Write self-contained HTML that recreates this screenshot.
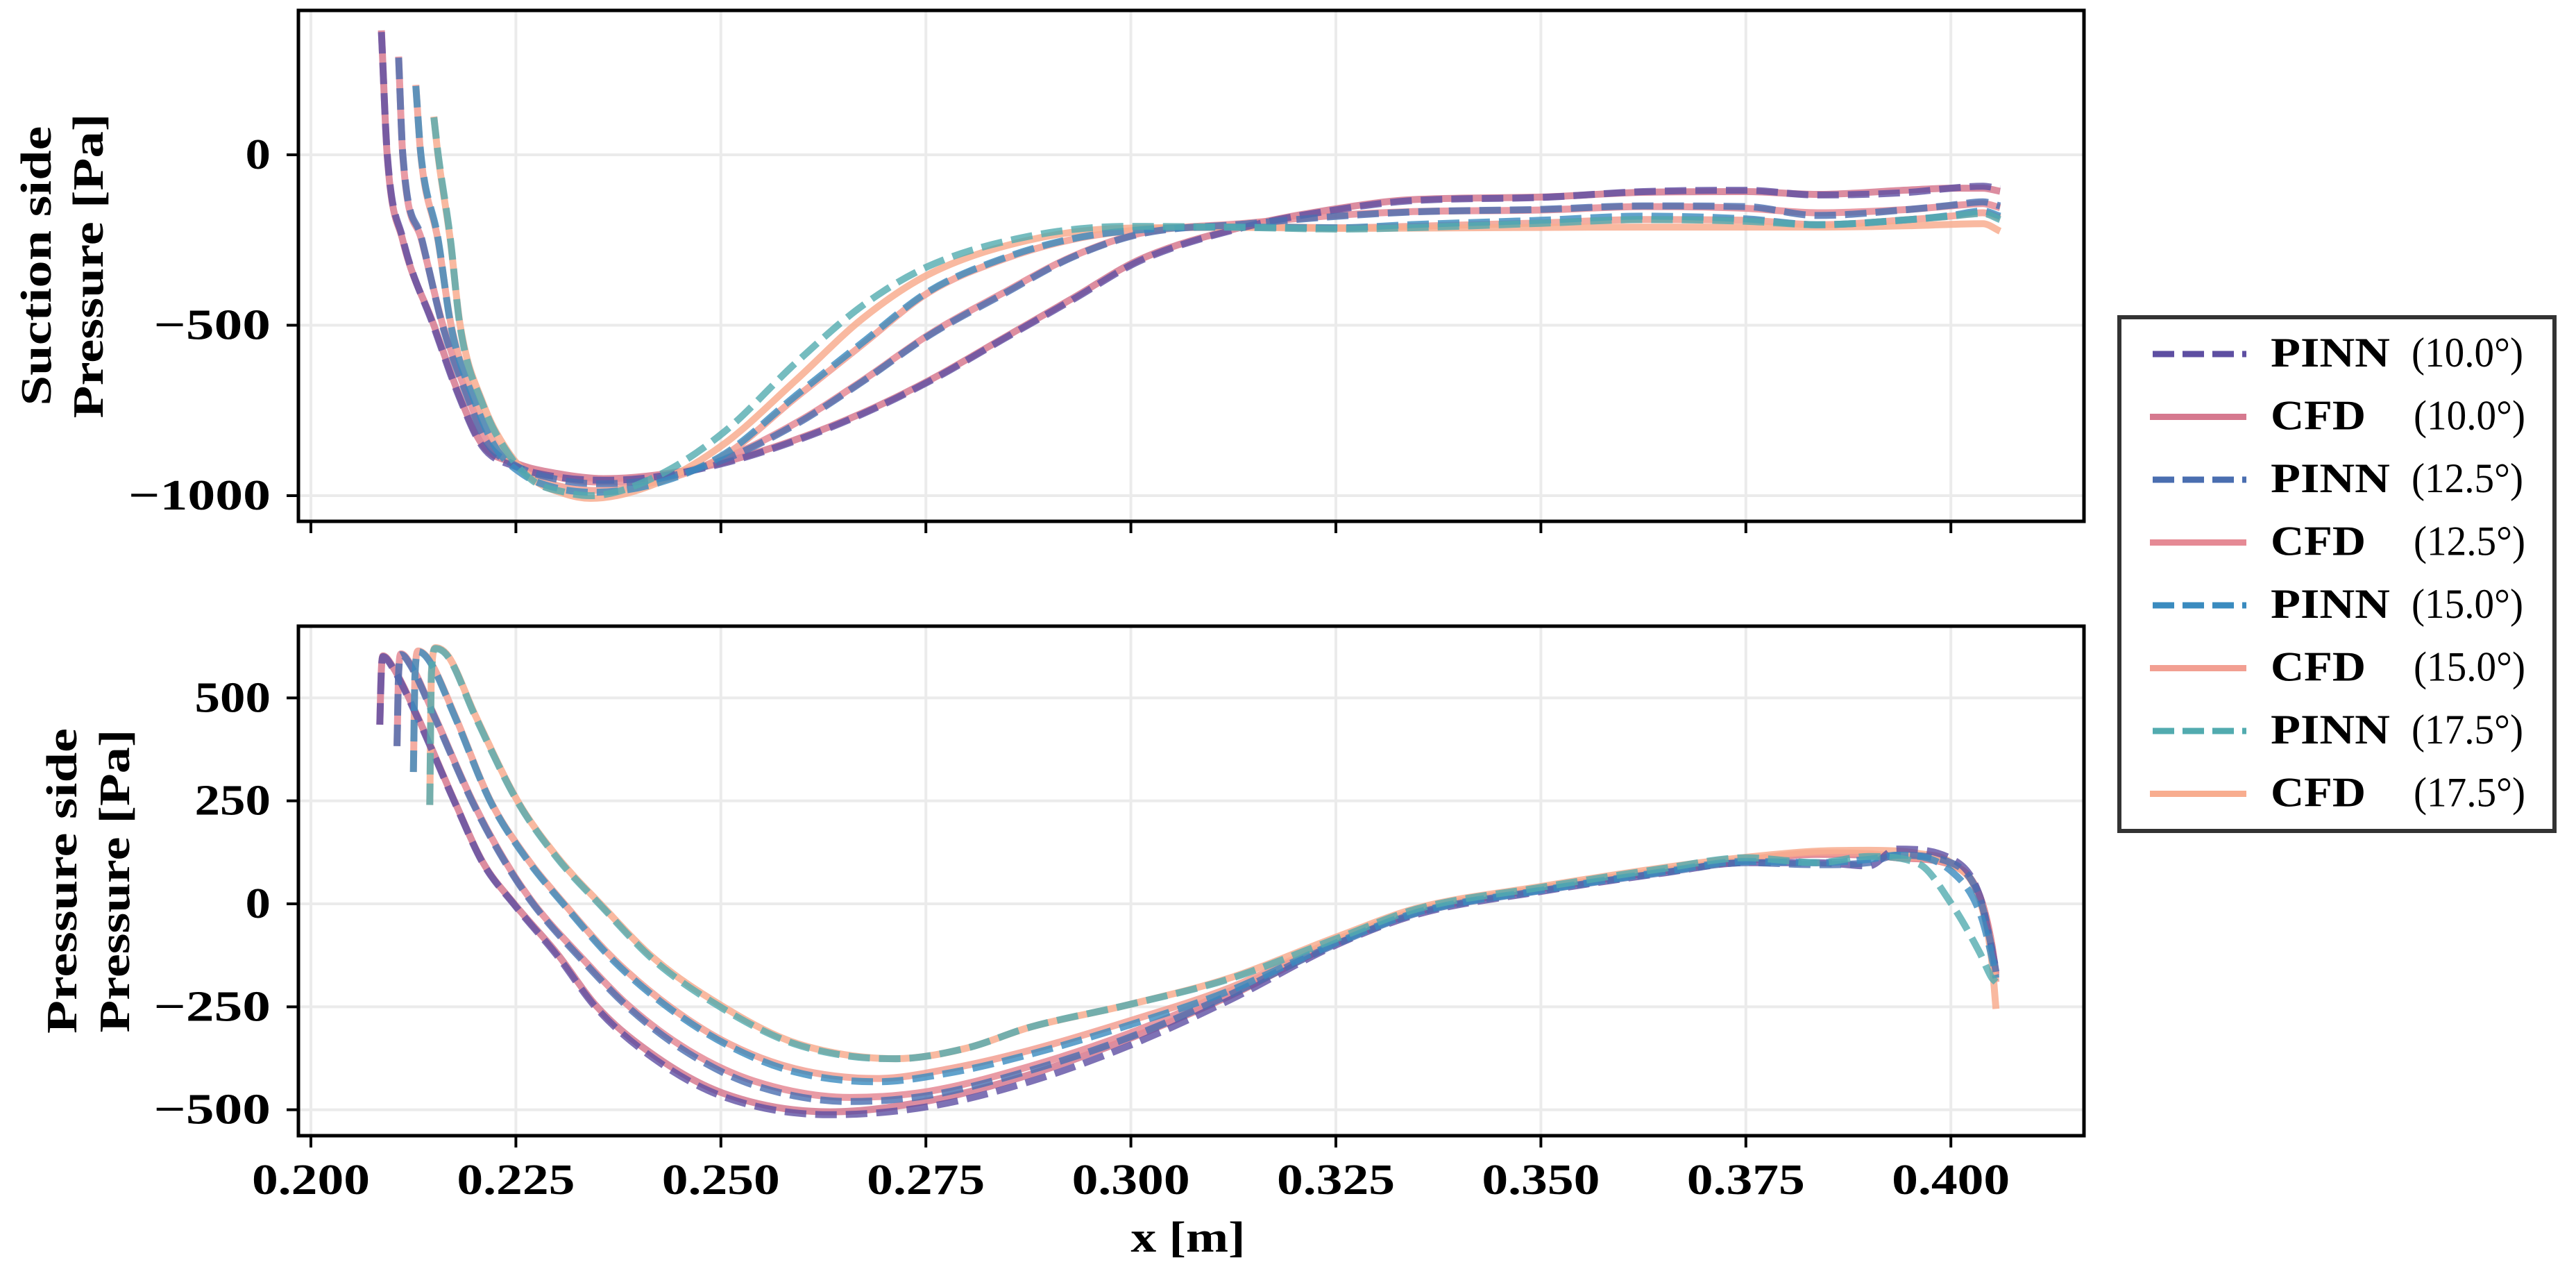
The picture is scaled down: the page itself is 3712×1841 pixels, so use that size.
<!DOCTYPE html>
<html><head><meta charset="utf-8"><style>
html,body{margin:0;padding:0;background:#fff;}
svg{display:block;}
text{font-family:"Liberation Serif",serif;fill:#000;}
</style></head><body>
<svg id="chart" xmlns="http://www.w3.org/2000/svg" width="3712" height="1841" viewBox="0 0 3712 1841">
<defs>
<clipPath id="clipTop"><rect x="430" y="15" width="2573" height="736"/></clipPath>
<clipPath id="clipBot"><rect x="430" y="902" width="2573" height="734"/></clipPath>
</defs>
<rect x="0" y="0" width="3712" height="1841" fill="#fff"/>
<g id="gridTop"></g>
<g id="gridBot"></g>
<g id="seriesTop" clip-path="url(#clipTop)"></g>
<g id="seriesBot" clip-path="url(#clipBot)"></g>
<rect x="430" y="15" width="2573" height="736" fill="none" stroke="#000" stroke-width="5"/>
<rect x="430" y="902" width="2573" height="734" fill="none" stroke="#000" stroke-width="5"/>
<g id="ticks"></g>
<g>
<text transform="translate(73,383) rotate(-90)" text-anchor="middle" font-size="62" font-weight="bold" textLength="403" lengthAdjust="spacingAndGlyphs">Suction side</text>
<text transform="translate(148,383) rotate(-90)" text-anchor="middle" font-size="62" font-weight="bold" textLength="439" lengthAdjust="spacingAndGlyphs">Pressure [Pa]</text>
</g>
<g>
<text transform="translate(110,1269) rotate(-90)" text-anchor="middle" font-size="62" font-weight="bold" textLength="440" lengthAdjust="spacingAndGlyphs">Pressure side</text>
<text transform="translate(186,1269) rotate(-90)" text-anchor="middle" font-size="62" font-weight="bold" textLength="437" lengthAdjust="spacingAndGlyphs">Pressure [Pa]</text>
</g>
<text x="1712" y="1803" text-anchor="middle" font-size="62" font-weight="bold" textLength="165" lengthAdjust="spacingAndGlyphs">x [m]</text>
<g id="legend">
<rect x="3054" y="457" width="627" height="740" fill="#fff" stroke="#333" stroke-width="6"/>
</g>
</svg>
<script>
// ---------- data ----------
const xTicks = [0.200,0.225,0.250,0.275,0.300,0.325,0.350,0.375,0.400];
const xTickLabels = ["0.200","0.225","0.250","0.275","0.300","0.325","0.350","0.375","0.400"];
const yTicksTop = [0,-500,-1000];
const yTickLabelsTop = ["0","\u2212500","\u22121000"];
const yTicksBot = [500,250,0,-250,-500];
const yTickLabelsBot = ["500","250","0","\u2212250","\u2212500"];
const seriesNames = ["PINN","CFD","PINN","CFD","PINN","CFD","PINN","CFD"];
const seriesAngles = ["(10.0\u00b0)","(10.0\u00b0)","(12.5\u00b0)","(12.5\u00b0)","(15.0\u00b0)","(15.0\u00b0)","(17.5\u00b0)","(17.5\u00b0)"];

// suction side x grids
const xTop10 = [0.2086,0.2093,0.2112,0.2150,0.2180,0.2209,0.2250,0.2300,0.2357,0.2420,0.2503,0.2592,0.2673,0.2754,0.2845,0.2929,0.3012,0.3139,0.3254,0.3340,0.3500,0.3625,0.3750,0.3837,0.3950,0.4000,0.4039,0.4060];
const xTop12 = [0.2107,0.2112,0.2135,0.2161,0.2190,0.2215,0.2250,0.2300,0.2350,0.2420,0.2503,0.2592,0.2673,0.2754,0.2845,0.2929,0.3012,0.3139,0.3254,0.3340,0.3500,0.3625,0.3750,0.3837,0.3950,0.4000,0.4039,0.4060];
const xTop15 = [0.2128,0.2134,0.2155,0.2171,0.2200,0.2225,0.2260,0.2300,0.2345,0.2420,0.2503,0.2592,0.2673,0.2754,0.2845,0.2929,0.3012,0.3139,0.3254,0.3340,0.3500,0.3625,0.3750,0.3837,0.3950,0.4000,0.4039,0.4060];
const xTop17 = [0.2150,0.2155,0.2170,0.2182,0.2210,0.2236,0.2270,0.2310,0.2341,0.2420,0.2503,0.2592,0.2673,0.2754,0.2876,0.2997,0.3139,0.3254,0.3340,0.3500,0.3625,0.3750,0.3837,0.3950,0.4000,0.4039,0.4060];
// suction side values
const pinnTop10 = [360,5,-245,-505,-705,-855,-915,-945,-955,-945,-905,-838,-760,-665,-540,-425,-310,-212,-160,-135,-125,-108,-104,-118,-110,-98,-92,-100];
const cfdTop10  = [365,0,-250,-500,-700,-850,-905,-935,-950,-940,-902,-835,-757,-662,-537,-421,-306,-210,-157,-132,-124,-110,-108,-116,-103,-98,-98,-107];
const pinnTop12 = [285,5,-245,-505,-705,-845,-912,-952,-965,-952,-895,-790,-665,-530,-408,-300,-232,-203,-180,-168,-160,-150,-152,-178,-160,-148,-138,-150];
const cfdTop12  = [288,0,-250,-500,-700,-840,-905,-945,-960,-950,-892,-786,-662,-527,-404,-298,-230,-201,-177,-167,-162,-152,-157,-170,-160,-150,-143,-155];
const pinnTop15 = [202,5,-245,-505,-725,-858,-940,-978,-990,-965,-880,-705,-550,-400,-303,-246,-220,-212,-214,-205,-192,-180,-188,-205,-190,-178,-165,-180];
const cfdTop15  = [205,0,-250,-500,-720,-850,-930,-970,-985,-960,-884,-711,-556,-403,-306,-248,-220,-210,-214,-210,-200,-190,-192,-205,-190,-180,-170,-185];
const pinnTop17 = [110,5,-245,-505,-735,-860,-955,-990,-1000,-945,-815,-609,-442,-326,-239,-210,-213,-218,-214,-201,-190,-195,-205,-190,-180,-172,-190];
const cfdTop17  = [112,0,-250,-500,-730,-855,-950,-995,-1008,-965,-850,-660,-480,-350,-250,-215,-213,-216,-215,-213,-212,-212,-212,-208,-204,-202,-224];

// pressure side x grids
const xBot10 = [0.2084,0.2086,0.2088,0.2100,0.2130,0.2175,0.2210,0.2248,0.2300,0.2349,0.2420,0.2503,0.2633,0.2754,0.2876,0.2997,0.3119,0.3250,0.3350,0.3500,0.3650,0.3750,0.3837,0.3900,0.3934,0.4000,0.4035,0.4050,0.4055];
const xBot12 = [0.2105,0.2107,0.2110,0.2122,0.2150,0.2197,0.2235,0.2272,0.2330,0.2389,0.2460,0.2540,0.2658,0.2754,0.2876,0.2997,0.3119,0.3250,0.3350,0.3500,0.3650,0.3750,0.3837,0.3900,0.3934,0.4000,0.4035,0.4050,0.4055];
const xBot15 = [0.2125,0.2127,0.2131,0.2145,0.2175,0.2219,0.2262,0.2309,0.2370,0.2438,0.2510,0.2590,0.2690,0.2780,0.2876,0.2997,0.3119,0.3250,0.3350,0.3500,0.3650,0.3750,0.3837,0.3900,0.3934,0.4000,0.4035,0.4050,0.4055];
const xBot17 = [0.2145,0.2147,0.2152,0.2168,0.2200,0.2252,0.2300,0.2353,0.2420,0.2503,0.2580,0.2650,0.2713,0.2800,0.2876,0.2997,0.3119,0.3254,0.3350,0.3500,0.3650,0.3750,0.3837,0.3900,0.3961,0.4000,0.4035,0.4050,0.4055];
// pressure side values
const pinnBot10 = [435,570,600,572,452,248,98,-2,-125,-255,-378,-468,-512,-492,-432,-345,-235,-100,-25,30,75,100,100,92,133,110,20,-110,-160];
const cfdBot10  = [435,570,602,575,455,250,100,0,-120,-250,-370,-460,-505,-478,-415,-328,-225,-95,-20,37,80,105,120,118,112,95,20,-100,-170];
const pinnBot12 = [383,560,605,577,457,247,107,-3,-135,-255,-362,-440,-480,-465,-405,-325,-222,-98,-22,32,76,100,95,100,118,100,15,-110,-165];
const cfdBot12  = [383,560,607,580,460,250,110,0,-130,-250,-355,-430,-470,-455,-395,-315,-213,-92,-18,37,80,105,122,120,112,95,20,-100,-175];
const pinnBot15 = [320,560,612,588,457,248,112,-3,-140,-255,-345,-408,-432,-410,-366,-295,-212,-95,-20,33,78,103,100,108,118,80,-20,-130,-180];
const cfdBot15  = [320,560,614,590,460,250,115,0,-135,-250,-340,-400,-424,-400,-356,-285,-205,-88,-15,38,82,107,124,122,115,95,15,-110,-190];
const pinnBot17 = [240,560,620,598,457,248,112,-3,-140,-255,-333,-368,-376,-350,-300,-245,-183,-82,-12,40,86,112,100,115,97,2,-118,-180,-190];
const cfdBot17  = [240,560,622,600,460,250,115,0,-135,-250,-330,-366,-376,-350,-300,-245,-181,-78,-10,42,88,113,128,130,122,100,10,-140,-255];

// ---------- styles & scales ----------
const colors = ["#5e4fa2","#d6798f","#4a6eb0","#e58a95","#3a8bbf","#f29f92","#52abaf","#f8ad8f"];
const NS = "http://www.w3.org/2000/svg";
const X0 = 448, XK = 11816;
function xS(v){ return X0 + (v - 0.2) * XK; }
function yTop(p){ return 223 - p * 0.491; }
function yBot(p){ return 1302 - p * 0.5933; }
function mk(tag, attrs, parent){
  const e = document.createElementNS(NS, tag);
  for (const k in attrs) e.setAttribute(k, attrs[k]);
  parent.appendChild(e); return e;
}
function labelWidth(s){
  let w = 0;
  for (const c of s){ if (c >= '0' && c <= '9') w += 36.5; else if (c === '.') w += 24; else if (c === '\u2212') w += 59; }
  return w;
}

// ---------- grid ----------
const gT = document.getElementById('gridTop'), gB = document.getElementById('gridBot');
xTicks.forEach(v => {
  const l1 = mk('line', {x1:xS(v), x2:xS(v), y1:15, y2:751, stroke:'#ebebeb', 'stroke-width':4}, gT);
  
  
  const l2 = mk('line', {x1:xS(v), x2:xS(v), y1:902, y2:1636, stroke:'#ebebeb', 'stroke-width':4}, gB);
  
  
});
yTicksTop.forEach(p => {
  const l = mk('line', {x1:430, x2:3003, y1:yTop(p), y2:yTop(p), stroke:'#ebebeb', 'stroke-width':4}, gT);
  
  
});
yTicksBot.forEach(p => {
  const l = mk('line', {x1:430, x2:3003, y1:yBot(p), y2:yBot(p), stroke:'#ebebeb', 'stroke-width':4}, gB);
  
  
});

// ---------- ticks ----------
const tk = document.getElementById('ticks');
xTicks.forEach((v, i) => {
  const t1 = mk('line', {x1:xS(v), x2:xS(v), y1:751, y2:768, stroke:'#000', 'stroke-width':4}, tk);
  
  
  const t2 = mk('line', {x1:xS(v), x2:xS(v), y1:1636, y2:1653, stroke:'#000', 'stroke-width':4}, tk);
  
  
  const tx = mk('text', {x:xS(v), y:1720, 'text-anchor':'middle', 'font-size':62, 'font-weight':'bold', textLength:labelWidth(xTickLabels[i]), lengthAdjust:'spacingAndGlyphs'}, tk);
  tx.textContent = xTickLabels[i];
  
  
});
function yTickSet(ticks, labels, yf, nm){
  ticks.forEach((p, i) => {
    const t = mk('line', {x1:413, x2:430, y1:yf(p), y2:yf(p), stroke:'#000', 'stroke-width':4}, tk);
    
    
    const tx = mk('text', {x:390, y:yf(p)+20, 'text-anchor':'end', 'font-size':62, 'font-weight':'bold', textLength:labelWidth(labels[i]), lengthAdjust:'spacingAndGlyphs'}, tk);
    tx.textContent = labels[i];
    
    
  });
}
yTickSet(yTicksTop, yTickLabelsTop, yTop, 'suction');
yTickSet(yTicksBot, yTickLabelsBot, yBot, 'pressure');

// ---------- series ----------
const topSets = [
  [xTop10, cfdTop10, pinnTop10], [xTop12, cfdTop12, pinnTop12],
  [xTop15, cfdTop15, pinnTop15], [xTop17, cfdTop17, pinnTop17]];
const botSets = [
  [xBot10, cfdBot10, pinnBot10], [xBot12, cfdBot12, pinnBot12],
  [xBot15, cfdBot15, pinnBot15], [xBot17, cfdBot17, pinnBot17]];
const angleTags = ['10-0','12-5','15-0','17-5'];

// monotone cubic (Fritsch-Carlson) smoothing in screen space
function smoothPath(xs, ys, yf){
  const n = xs.length;
  const X = xs.map(xS), Y = ys.map(yf);
  const d = [], m = new Array(n);
  for (let i = 0; i < n-1; i++) d.push((Y[i+1]-Y[i]) / (X[i+1]-X[i]));
  m[0] = d[0]; m[n-1] = d[n-2];
  for (let i = 1; i < n-1; i++) m[i] = (d[i-1]*d[i] <= 0) ? 0 : (d[i-1]+d[i]) / 2;
  for (let i = 0; i < n-1; i++){
    if (d[i] === 0){ m[i] = 0; m[i+1] = 0; continue; }
    const a = m[i]/d[i], b = m[i+1]/d[i], s = a*a + b*b;
    if (s > 9){ const t = 3/Math.sqrt(s); m[i] = t*a*d[i]; m[i+1] = t*b*d[i]; }
  }
  let p = 'M' + X[0].toFixed(1) + ',' + Y[0].toFixed(1);
  for (let i = 0; i < n-1; i++){
    const h = (X[i+1]-X[i]) / 3;
    p += 'C' + (X[i]+h).toFixed(1) + ',' + (Y[i]+m[i]*h).toFixed(1) + ' ' +
         (X[i+1]-h).toFixed(1) + ',' + (Y[i+1]-m[i+1]*h).toFixed(1) + ' ' +
         X[i+1].toFixed(1) + ',' + Y[i+1].toFixed(1);
  }
  return p;
}
function drawPanel(sets, yf, gid, nm){
  const g = document.getElementById(gid);
  sets.forEach((s, k) => {
    const c = mk('path', {d:smoothPath(s[0], s[1], yf), fill:'none', stroke:colors[2*k+1], 'stroke-width':10, 'stroke-linejoin':'round', opacity:0.85}, g);
    
    
  });
  sets.forEach((s, k) => {
    const p = mk('path', {d:smoothPath(s[0], s[2], yf), fill:'none', stroke:colors[2*k], 'stroke-width':10, 'stroke-dasharray':'31 13', opacity:0.8}, g);
    
    
  });
}
drawPanel(topSets, yTop, 'seriesTop', 'suction');
drawPanel(botSets, yBot, 'seriesBot', 'pressure');

// ---------- legend ----------
const lg = document.getElementById('legend');
seriesNames.forEach((nmS, i) => {
  const y = 510 + i * 90.5;
  const isP = nmS === 'PINN';
  const g = mk('g', {}, lg);
  
  
  const ln = mk('line', {x1:isP?3102:3098, x2:3237, y1:y, y2:y, stroke:colors[i], 'stroke-width':9}, g);
  if (isP) ln.setAttribute('stroke-dasharray', '31 12');
  
  
  const t1 = mk('text', {x:3272, y:y+18, 'font-size':60, 'font-weight':'bold', textLength:isP?172:137, lengthAdjust:'spacingAndGlyphs'}, g);
  t1.textContent = nmS;
  
  
  const t2 = mk('text', {x:isP?3475:3478, y:y+18, 'font-size':60, textLength:161, lengthAdjust:'spacingAndGlyphs'}, g);
  t2.textContent = seriesAngles[i];
  
  
});
</script>
</body></html>
